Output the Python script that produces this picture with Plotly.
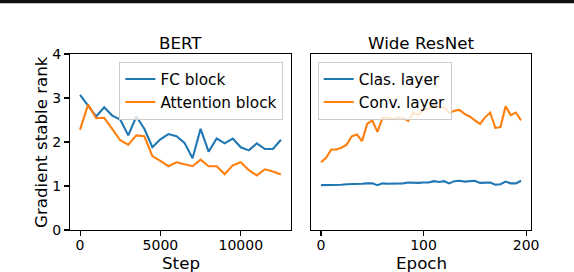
import plotly.graph_objects as go

# ---- data ----
steps = [0, 500, 1000, 1500, 2000, 2500, 3000, 3500, 4000, 4500, 5000, 5500, 6000,
         6500, 7000, 7500, 8000, 8500, 9000, 9500, 10000, 10500, 11000, 11500, 12000, 12500]
fc_block = [3.07, 2.82, 2.58, 2.79, 2.60, 2.51, 2.15, 2.58, 2.30, 1.88, 2.06, 2.18, 2.13,
            1.98, 1.63, 2.30, 1.78, 2.08, 1.97, 2.08, 1.88, 1.81, 1.97, 1.84, 1.84, 2.05]
attention_block = [2.28, 2.85, 2.54, 2.55, 2.30, 2.04, 1.94, 2.15, 2.13, 1.68, 1.57, 1.45, 1.54,
                   1.49, 1.45, 1.60, 1.45, 1.45, 1.27, 1.47, 1.54, 1.36, 1.24, 1.38, 1.33, 1.26]

epochs = [0, 5, 10, 15, 20, 25, 30, 35, 40, 45, 50, 55, 60, 65, 70, 75, 80, 85, 90, 95,
          100, 105, 110, 115, 120, 125, 130, 135, 140, 145, 150, 155, 160, 165, 170, 175,
          180, 185, 190, 195]
clas_layer = [1.02, 1.02, 1.03, 1.03, 1.03, 1.04, 1.04, 1.05, 1.05, 1.06, 1.06, 1.02, 1.06,
              1.05, 1.05, 1.06, 1.06, 1.08, 1.07, 1.07, 1.08, 1.08, 1.11, 1.09, 1.11, 1.06,
              1.11, 1.12, 1.10, 1.11, 1.12, 1.07, 1.08, 1.08, 1.03, 1.04, 1.10, 1.06, 1.06, 1.12]
conv_layer = [1.54, 1.64, 1.83, 1.83, 1.87, 1.94, 2.13, 2.17, 2.02, 2.41, 2.49, 2.23, 2.55,
              2.55, 2.52, 2.55, 2.55, 2.48, 2.66, 2.62, 2.73, 2.76, 2.83, 2.78, 2.79, 2.66,
              2.71, 2.73, 2.64, 2.58, 2.49, 2.41, 2.56, 2.67, 2.32, 2.34, 2.81, 2.61, 2.67, 2.49]

x_ticks_left = [0, 5000, 10000]
x_ticks_right = [0, 100, 200]
y_ticks = [0, 1, 2, 3, 4]

# ---- layout helpers ----
W, H = 574, 272
FONT = "DejaVu Sans"
BLUE = "#1f77b4"
ORANGE = "#ff7f0e"


def px(x):
    return x / W


def py(y):
    return 1 - y / H


fig = go.Figure()
fig.add_trace(go.Scatter(x=steps, y=fc_block, mode="lines", name="FC block",
                         line=dict(color=BLUE, width=2.1), xaxis="x", yaxis="y", legend="legend"))
fig.add_trace(go.Scatter(x=steps, y=attention_block, mode="lines", name="Attention block",
                         line=dict(color=ORANGE, width=2.1), xaxis="x", yaxis="y", legend="legend"))
fig.add_trace(go.Scatter(x=epochs, y=clas_layer, mode="lines", name="Clas. layer",
                         line=dict(color=BLUE, width=2.1), xaxis="x2", yaxis="y2", legend="legend2"))
fig.add_trace(go.Scatter(x=epochs, y=conv_layer, mode="lines", name="Conv. layer",
                         line=dict(color=ORANGE, width=2.1), xaxis="x2", yaxis="y2", legend="legend2"))

axis_common = dict(showline=True, mirror=True, linecolor="black", linewidth=1.1,
                   showgrid=False, zeroline=False, ticks="outside", ticklen=5,
                   tickwidth=1.1, tickcolor="black",
                   tickfont=dict(family=FONT, size=14, color="black"), automargin=False)

legend_common = dict(bgcolor="rgba(255,255,255,0.8)", bordercolor="#cccccc", borderwidth=1,
                     font=dict(family=FONT, size=15.3, color="black"), itemwidth=30,
                     tracegroupgap=0)

fig.update_layout(
    width=W, height=H,
    margin=dict(l=0, r=0, t=0, b=0),
    paper_bgcolor="white", plot_bgcolor="white",
    showlegend=True,
    xaxis=dict(domain=[px(70), px(291)], anchor="y", range=[-625, 13125],
               tickvals=x_ticks_left, ticktext=[str(v) for v in x_ticks_left],
               ticklabelstandoff=-3, **axis_common),
    yaxis=dict(domain=[py(230), py(54)], anchor="x", range=[0, 4],
               tickvals=y_ticks, ticktext=[str(v) for v in y_ticks], **axis_common),
    xaxis2=dict(domain=[px(311), px(531)], anchor="y2", range=[-9.75, 204.75],
                tickvals=x_ticks_right, ticktext=[str(v) for v in x_ticks_right],
                ticklabelstandoff=-3, **axis_common),
    yaxis2=dict(domain=[py(230), py(54)], anchor="x2", range=[0, 4],
                **{**axis_common, "ticks": "", "showticklabels": False}),
    legend=dict(x=px(283.4), y=py(61.6), xanchor="right", yanchor="top", **legend_common),
    legend2=dict(x=px(317.7), y=py(61.6), xanchor="left", yanchor="top", **legend_common),
    shapes=[dict(type="rect", xref="paper", yref="paper", x0=0, x1=1, y0=py(3.2), y1=py(0),
                 fillcolor="#111111", line=dict(width=0), layer="above")],
)

ann_font_big = dict(family=FONT, size=16.7, color="black")
annotations = [
    dict(text="BERT", x=px(180.5), y=py(43.1)),
    dict(text="Wide ResNet", x=px(421), y=py(43.1)),
    dict(text="Step", x=px(180.5), y=py(262.5)),
    dict(text="Epoch", x=px(421), y=py(262.5)),
    dict(text="Gradient stable rank", x=px(41), y=py(142), textangle=-90),
]
for a in annotations:
    fig.add_annotation(xref="paper", yref="paper", xanchor="center", yanchor="middle",
                       showarrow=False, font=ann_font_big, **a)

fig.write_html("out.html", config={"staticPlot": True, "displayModeBar": False},
               post_script="document.body.style.margin='0';document.body.style.padding='0';")
